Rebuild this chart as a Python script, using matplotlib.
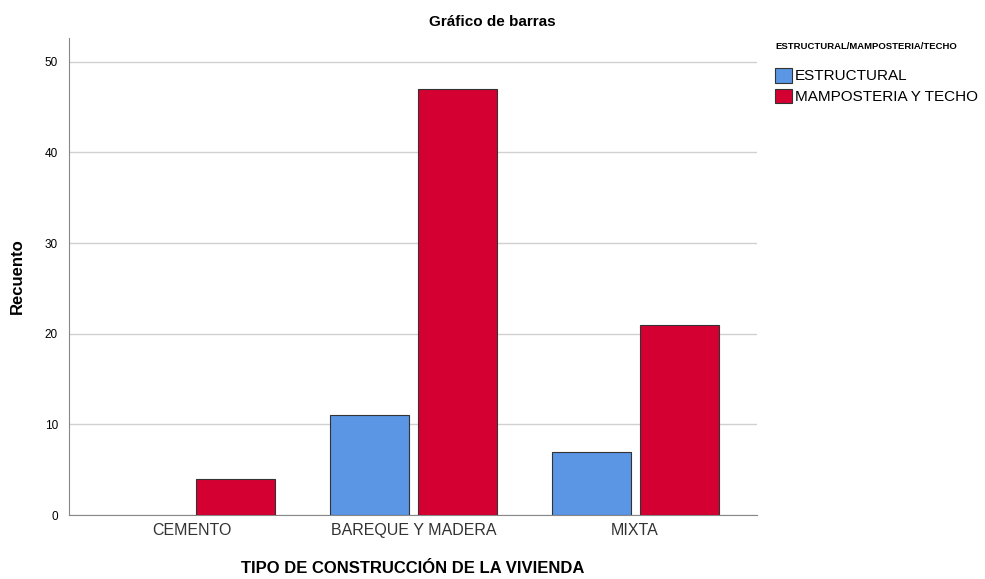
import matplotlib.pyplot as plt
import numpy as np

categories = ['CEMENTO', 'BAREQUE Y MADERA', 'MIXTA']
series = ['ESTRUCTURAL', 'MAMPOSTERIA Y TECHO']
estructural = [0, 11, 7]
mamposteria = [4, 47, 21]
colors = ['#5a96e4', '#d50032']

plt.rcParams['font.family'] = ['Liberation Sans', 'DejaVu Sans']

fig = plt.figure(figsize=(9.85, 5.79), dpi=100)
ax = fig.add_axes([0.070, 0.1105, 0.6985, 0.8235])

x = np.arange(len(categories))
w = 0.357
gap = 0.02
for vals, off, col, lab in [(estructural, -(w / 2 + gap), colors[0], series[0]),
                            (mamposteria, (w / 2 + gap), colors[1], series[1])]:
    vals = np.array(vals, dtype=float)
    mask = vals > 0
    ax.bar(x[mask] + off, vals[mask], width=w, color=col, edgecolor='#333333',
           linewidth=0.8, label=lab, zorder=3)

ax.set_xlim(-0.555, 2.55)
ax.set_ylim(0, 52.6)
ax.set_yticks(np.arange(0, 51, 10))
ax.set_xticks(x)
ax.set_xticklabels(categories, fontsize=11.5, color='#333333')
ax.tick_params(axis='y', labelsize=8.5, length=0, pad=8)
ax.tick_params(axis='x', length=0, pad=6)
ax.grid(axis='y', color='#d0d0d0', linewidth=1, zorder=0)
for s in ['top', 'right']:
    ax.spines[s].set_visible(False)
for s in ['left', 'bottom']:
    ax.spines[s].set_color('#888888')

ax.set_ylabel('Recuento', fontsize=12, fontweight='bold', labelpad=14)
ax.set_xlabel('TIPO DE CONSTRUCCIÓN DE LA VIVIENDA', fontsize=12, fontweight='bold', labelpad=16)
fig.text(0.5, 0.962, 'Gráfico de barras', ha='center', va='center', fontsize=11, fontweight='bold')

leg = fig.legend(loc='upper left', bbox_to_anchor=(0.787, 0.927), frameon=False,
                 title='ESTRUCTURAL/MAMPOSTERIA/TECHO', fontsize=11,
                 title_fontproperties={'size': 6.8, 'weight': 'bold'},
                 handlelength=1.1, handleheight=1.1, handletextpad=0.2,
                 labelspacing=0.35, alignment='left', borderaxespad=0,
                 borderpad=0)
leg._legend_box.sep = 12

fig.savefig('out.png', dpi=100)
